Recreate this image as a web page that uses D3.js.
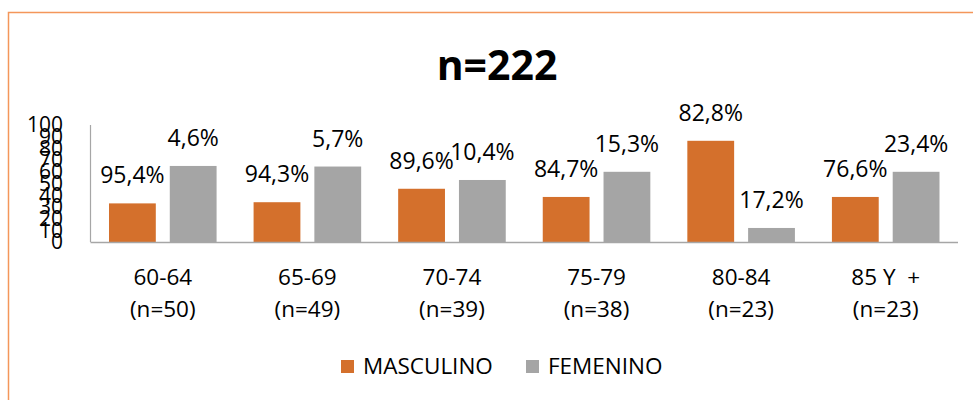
<!DOCTYPE html>
<html>
<head>
<meta charset="utf-8">
<script src="https://cdn.jsdelivr.net/npm/d3@7"></script>
<style>
  html, body { margin: 0; padding: 0; background: #fff; }
  svg { display: block; }
  text { font-family: "Open Sans", sans-serif; fill: #000; }
</style>
</head>
<body>
<svg id="chart" width="973" height="400"></svg>
<script>
const categories = ["60-64", "65-69", "70-74", "75-79", "80-84", "85 Y  +"];
const subLabels = ["(n=50)", "(n=49)", "(n=39)", "(n=38)", "(n=23)", "(n=23)"];
const series = ["MASCULINO", "FEMENINO"];
const masculino = [33, 34, 45.5, 38.5, 86.5, 38.5];
const femenino = [65, 64.5, 53, 60, 12, 60];
const labelsMasculino = ["95,4%", "94,3%", "89,6%", "84,7%", "82,8%", "76,6%"];
const labelsFemenino = ["4,6%", "5,7%", "10,4%", "15,3%", "17,2%", "23,4%"];
const yTicks = [0, 10, 20, 30, 40, 50, 60, 70, 80, 90, 100];
const title = "n=222";

const colors = { MASCULINO: "#D4702C", FEMENINO: "#A5A5A5" };

const svg = d3.select("#chart");

// outer frame
svg.append("rect")
  .attr("x", 8.5).attr("y", 12.5)
  .attr("width", 980).attr("height", 400)
  .attr("fill", "none")
  .attr("stroke", "#F4965A")
  .attr("stroke-width", 1.5);

const plotLeft = 90.5, plotRight = 958, plotTop = 125, plotBottom = 242;

const x0 = d3.scaleBand().domain(categories).range([plotLeft, plotRight]).paddingInner(0).paddingOuter(0);
const x1 = d3.scaleBand().domain(series).range([18.5, x0.bandwidth() - 18.5]).paddingInner(0.23);
const y = d3.scaleLinear().domain([0, 100]).range([plotBottom, plotTop]);

const data = categories.map((c, i) => ({
  cat: c,
  sub: subLabels[i],
  vals: [
    { s: "MASCULINO", v: masculino[i], label: labelsMasculino[i] },
    { s: "FEMENINO", v: femenino[i], label: labelsFemenino[i] }
  ]
}));

// title
svg.append("text")
  .attr("x", 497).attr("y", 80)
  .attr("text-anchor", "middle")
  .style("font-size", "41px")
  .style("font-weight", "bold")
  .text(title);

// y axis tick labels (crowded, as in the original)
svg.append("g").selectAll("text")
  .data(yTicks).join("text")
  .attr("x", 63)
  .attr("y", d => y(d))
  .attr("dy", "0.35em")
  .attr("text-anchor", "end")
  .style("font-size", "21px")
  .text(d => d);

// bars
const groups = svg.append("g").selectAll("g")
  .data(data).join("g")
  .attr("transform", d => `translate(${x0(d.cat)},0)`);

groups.selectAll("rect")
  .data(d => d.vals).join("rect")
  .attr("x", d => x1(d.s))
  .attr("width", x1.bandwidth())
  .attr("y", d => y(d.v))
  .attr("height", d => y(0) - y(d.v))
  .attr("fill", d => colors[d.s]);

groups.selectAll("text.lbl")
  .data(d => d.vals).join("text")
  .attr("class", "lbl")
  .attr("x", d => x1(d.s) + x1.bandwidth() / 2)
  .attr("y", d => y(d.v) - 20)
  .attr("text-anchor", "middle")
  .style("font-size", "23px")
  .text(d => d.label);

// axis lines
svg.append("line")
  .attr("x1", plotLeft).attr("x2", plotLeft)
  .attr("y1", plotTop).attr("y2", plotBottom)
  .attr("stroke", "#A6A6A6").attr("stroke-width", 1.2);
svg.append("line")
  .attr("x1", plotLeft).attr("x2", plotRight)
  .attr("y1", plotBottom + 0.5).attr("y2", plotBottom + 0.5)
  .attr("stroke", "#A6A6A6").attr("stroke-width", 1.5);

// category labels
const catG = svg.append("g").selectAll("g")
  .data(data).join("g");
catG.append("text")
  .attr("x", d => x0(d.cat) + x0.bandwidth() / 2)
  .attr("y", 285)
  .attr("text-anchor", "middle")
  .style("font-size", "22.5px")
  .style("white-space", "pre")
  .attr("xml:space", "preserve")
  .text(d => d.cat);
catG.append("text")
  .attr("x", d => x0(d.cat) + x0.bandwidth() / 2)
  .attr("y", 317)
  .attr("text-anchor", "middle")
  .style("font-size", "22.5px")
  .text(d => d.sub);

// legend
const legendX = [341, 526];
const legend = svg.append("g").selectAll("g")
  .data(series).join("g")
  .attr("transform", (d, i) => `translate(${legendX[i]},360)`);
legend.append("rect")
  .attr("width", 13).attr("height", 13)
  .attr("fill", d => colors[d]);
legend.append("text")
  .attr("x", 22).attr("y", 13.5)
  .style("font-size", "22.5px")
  .text(d => d);
</script>
</body>
</html>
